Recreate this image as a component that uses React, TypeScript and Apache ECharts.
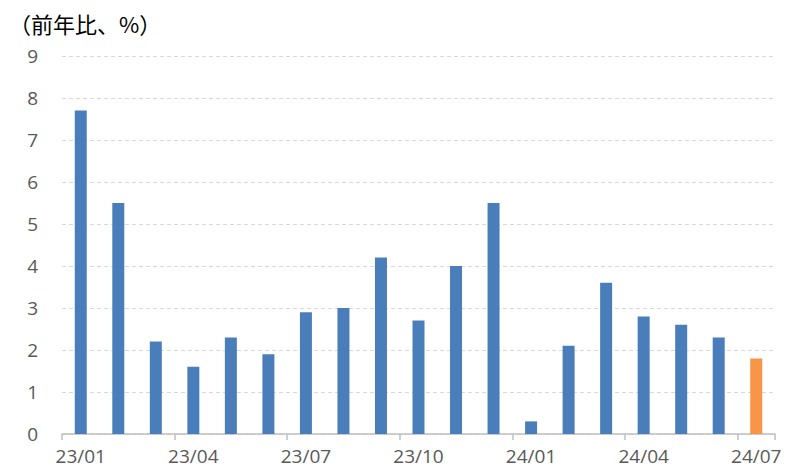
import React, { useEffect, useRef } from "react";
import * as echarts from "echarts";

const categories = ["23/01","23/02","23/03","23/04","23/05","23/06","23/07","23/08","23/09","23/10","23/11","23/12","24/01","24/02","24/03","24/04","24/05","24/06","24/07"];
const values = [7.7, 5.5, 2.2, 1.6, 2.3, 1.9, 2.9, 3.0, 4.2, 2.7, 4.0, 5.5, 0.3, 2.1, 3.6, 2.8, 2.6, 2.3, 1.8];
const highlightIndex = 18;
const yTitle = "（前年比、%）";

export default function App() {
  const ref = useRef<HTMLDivElement>(null);
  useEffect(() => {
    const chart = echarts.init(ref.current!, null, { renderer: "svg" });
    const font = "'Noto Sans CJK JP', 'Noto Sans', sans-serif";
    chart.setOption({
      animation: false,
      grid: { left: 54, right: 28, top: 48, bottom: 42 },
      graphic: [
        { type: "text", left: 1, top: 4, style: { text: yTitle, font: `22px ${font}`, fill: "#000" } },
      ],
      xAxis: {
        type: "category",
        data: categories,
        boundaryGap: true,
        axisLine: { lineStyle: { color: "#BFBFBF", width: 1.5 } },
        axisTick: { show: true, interval: 2, length: 6, alignWithLabel: false, lineStyle: { color: "#BFBFBF", width: 1.5 } },
        axisLabel: { interval: 2, color: "#595959", fontSize: 19, fontFamily: "Open Sans, sans-serif", margin: 12 },
      },
      yAxis: {
        type: "value",
        min: 0,
        max: 9,
        interval: 1,
        axisLine: { show: false },
        axisTick: { show: false },
        axisLabel: { color: "#595959", fontSize: 19, fontFamily: "Open Sans, sans-serif", margin: 24 },
        splitLine: { lineStyle: { color: "#D9D9D9", type: [4, 3], width: 1 } },
      },
      series: [
        {
          type: "bar",
          barWidth: 12,
          data: values.map((v, i) => ({
            value: v,
            itemStyle: { color: i === highlightIndex ? "#F79646" : "#4A7EBB" },
          })),
        },
      ],
    });
    return () => chart.dispose();
  }, []);
  return <div ref={ref} style={{ width: 795, height: 468 }} />;
}
